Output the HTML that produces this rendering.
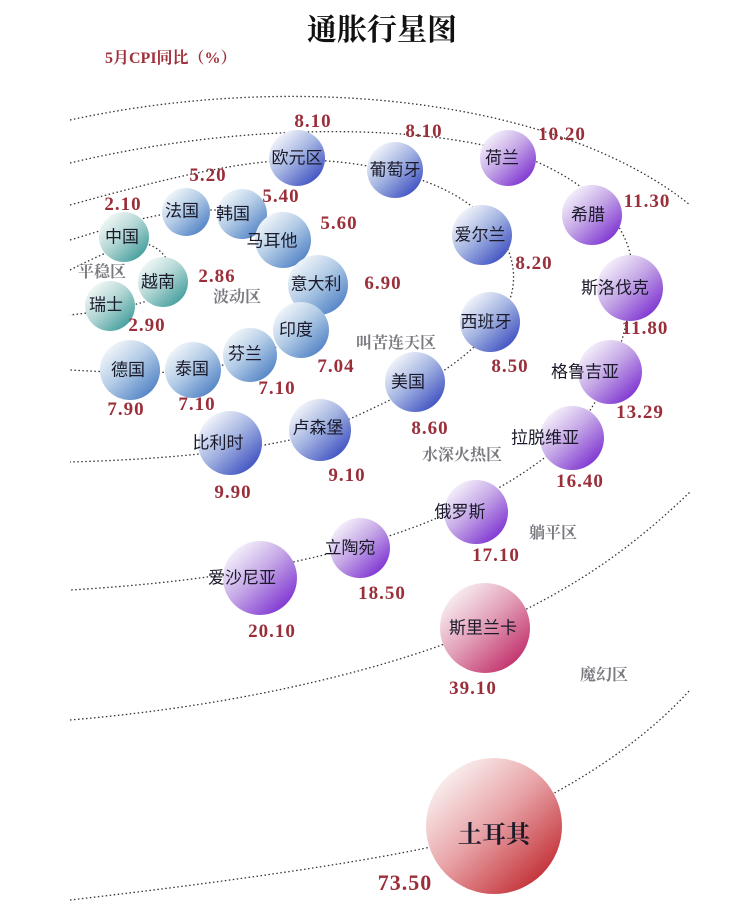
<!DOCTYPE html>
<html><head><meta charset="utf-8"><style>
body{margin:0;background:#fff}
svg{display:block}
.n{font-family:"Liberation Sans","Noto Sans CJK SC",sans-serif;font-size:17px;fill:#1a1a2a;text-anchor:middle;dominant-baseline:central}
.v{font-family:"Liberation Serif","Noto Serif CJK SC",serif;font-size:19px;font-weight:bold;fill:#9a2f3a;text-anchor:middle;letter-spacing:1px}
.z{font-family:"Noto Serif CJK SC",serif;font-size:16px;font-weight:bold;fill:#7a7a80;text-anchor:middle}
.o{fill:none;stroke:#333;stroke-width:1.3;stroke-dasharray:1.5 2.5}
</style></head><body>
<svg width="740" height="917" viewBox="0 0 740 917" xmlns="http://www.w3.org/2000/svg">
<defs>
<linearGradient id="b" x1="0.15" y1="0.1" x2="0.9" y2="0.9"><stop offset="0" stop-color="#f4f6fb"/><stop offset="0.45" stop-color="#a6b6e2"/><stop offset="1" stop-color="#3a4cc0"/></linearGradient>
<linearGradient id="lb" x1="0.15" y1="0.1" x2="0.9" y2="0.9"><stop offset="0" stop-color="#f2f6fa"/><stop offset="0.45" stop-color="#b2cbe6"/><stop offset="1" stop-color="#4d7fc4"/></linearGradient>
<linearGradient id="t" x1="0.15" y1="0.1" x2="0.9" y2="0.9"><stop offset="0" stop-color="#f2f8f6"/><stop offset="0.45" stop-color="#b2d6d4"/><stop offset="1" stop-color="#3d9b9a"/></linearGradient>
<linearGradient id="p" x1="0.15" y1="0.1" x2="0.9" y2="0.9"><stop offset="0" stop-color="#f6f2fb"/><stop offset="0.45" stop-color="#c4a6e6"/><stop offset="1" stop-color="#7a2ed0"/></linearGradient>
<linearGradient id="k" x1="0.15" y1="0.1" x2="0.9" y2="0.9"><stop offset="0" stop-color="#f8eef2"/><stop offset="0.45" stop-color="#e2a0b8"/><stop offset="1" stop-color="#c02a68"/></linearGradient>
<linearGradient id="r" x1="0.15" y1="0.1" x2="0.9" y2="0.9"><stop offset="0" stop-color="#faf0f0"/><stop offset="0.45" stop-color="#e8a4a8"/><stop offset="1" stop-color="#c02a30"/></linearGradient>
</defs>
<text x="382" y="40" font-family="Noto Serif CJK SC,serif" font-size="30" font-weight="bold" fill="#111" text-anchor="middle">通胀行星图</text>
<text x="105" y="63" font-family="Liberation Serif,Noto Serif CJK SC,serif" font-size="16" font-weight="bold" fill="#a0303a">5月CPI同比（%）</text>

<path class="o" d="M70,120 C300,70 560,100 690,205"/>
<path class="o" d="M70,163 C250,120 430,125 520,155 C600,185 640,235 632,290 C625,350 600,410 560,445 C520,480 470,505 420,525 C340,555 240,580 70,590"/>
<path class="o" d="M70,205 C160,180 240,160 300,160 C360,160 430,175 470,205 C520,240 525,290 495,325 C470,355 440,375 410,390 C370,410 330,430 290,440 C220,455 140,460 70,462"/>
<path class="o" d="M70,240 C120,225 160,210 210,210 C250,210 280,230 300,255 C320,275 320,305 300,330 C280,350 250,360 200,370 C150,375 110,372 70,370"/>
<path class="o" d="M70,270 C100,255 130,240 150,245 C175,255 180,290 150,300 C120,310 95,312 70,315"/>
<path class="o" d="M70,720 C250,705 400,665 485,628 C580,588 640,540 690,492"/>
<path class="o" d="M70,900 C200,885 350,865 440,845 C560,800 640,745 690,690"/>

<g>
<circle cx="297" cy="158" r="28" fill="url(#b)"/><text class="n" x="297" y="158">欧元区</text>
<circle cx="395" cy="170" r="28" fill="url(#b)"/><text class="n" x="395" y="170">葡萄牙</text>
<circle cx="508" cy="158" r="28" fill="url(#p)"/><text class="n" x="502" y="158">荷兰</text>
<circle cx="592" cy="215" r="30" fill="url(#p)"/><text class="n" x="588" y="215">希腊</text>
<circle cx="482" cy="235" r="30" fill="url(#b)"/><text class="n" x="480" y="235">爱尔兰</text>
<circle cx="630" cy="288" r="33" fill="url(#p)"/><text class="n" x="615" y="288">斯洛伐克</text>
<circle cx="490" cy="322" r="30" fill="url(#b)"/><text class="n" x="486" y="322">西班牙</text>
<circle cx="610" cy="372" r="32" fill="url(#p)"/><text class="n" x="585" y="372">格鲁吉亚</text>
<circle cx="415" cy="382" r="30" fill="url(#b)"/><text class="n" x="408" y="382">美国</text>
<circle cx="572" cy="438" r="32" fill="url(#p)"/><text class="n" x="545" y="438">拉脱维亚</text>
<circle cx="320" cy="430" r="31" fill="url(#b)"/><text class="n" x="318" y="428">卢森堡</text>
<circle cx="230" cy="443" r="32" fill="url(#b)"/><text class="n" x="218" y="443">比利时</text>
<circle cx="476" cy="512" r="32" fill="url(#p)"/><text class="n" x="460" y="512">俄罗斯</text>
<circle cx="360" cy="548" r="30" fill="url(#p)"/><text class="n" x="350" y="548">立陶宛</text>
<circle cx="260" cy="578" r="37" fill="url(#p)"/><text class="n" x="242" y="578">爱沙尼亚</text>
<circle cx="485" cy="628" r="45" fill="url(#k)"/><text class="n" x="483" y="628">斯里兰卡</text>
<circle cx="494" cy="826" r="68" fill="url(#r)"/><text class="n" x="494" y="832" style="font-size:24px;font-weight:bold;font-family:'Noto Serif CJK SC',serif">土耳其</text>
<circle cx="186" cy="212" r="24" fill="url(#lb)"/><text class="n" x="182" y="211">法国</text>
<circle cx="242" cy="214" r="25" fill="url(#lb)"/><text class="n" x="233" y="214">韩国</text>
<circle cx="283" cy="240" r="28" fill="url(#lb)"/><text class="n" x="272" y="241">马耳他</text>
<circle cx="318" cy="285" r="30" fill="url(#lb)"/><text class="n" x="316" y="284">意大利</text>
<circle cx="301" cy="330" r="28" fill="url(#lb)"/><text class="n" x="296" y="330">印度</text>
<circle cx="250" cy="355" r="27" fill="url(#lb)"/><text class="n" x="245" y="354">芬兰</text>
<circle cx="193" cy="370" r="28" fill="url(#lb)"/><text class="n" x="192" y="369">泰国</text>
<circle cx="130" cy="370" r="30" fill="url(#lb)"/><text class="n" x="128" y="370">德国</text>
<circle cx="124" cy="237" r="25" fill="url(#t)"/><text class="n" x="122" y="237">中国</text>
<circle cx="163" cy="282" r="25" fill="url(#t)"/><text class="n" x="158" y="282">越南</text>
<circle cx="110" cy="306" r="25" fill="url(#t)"/><text class="n" x="106" y="305">瑞士</text>
</g>

<g>
<text class="v" x="313" y="127">8.10</text>
<text class="v" x="424" y="137">8.10</text>
<text class="v" x="562" y="140">10.20</text>
<text class="v" x="647" y="207">11.30</text>
<text class="v" x="534" y="269">8.20</text>
<text class="v" x="645" y="334">11.80</text>
<text class="v" x="510" y="372">8.50</text>
<text class="v" x="640" y="418">13.29</text>
<text class="v" x="430" y="434">8.60</text>
<text class="v" x="580" y="487">16.40</text>
<text class="v" x="347" y="481">9.10</text>
<text class="v" x="233" y="498">9.90</text>
<text class="v" x="496" y="561">17.10</text>
<text class="v" x="382" y="599">18.50</text>
<text class="v" x="272" y="637">20.10</text>
<text class="v" x="473" y="694">39.10</text>
<text class="v" x="405" y="890" style="font-size:22px">73.50</text>
<text class="v" x="208" y="181">5.20</text>
<text class="v" x="281" y="202">5.40</text>
<text class="v" x="339" y="229">5.60</text>
<text class="v" x="383" y="289">6.90</text>
<text class="v" x="336" y="372">7.04</text>
<text class="v" x="277" y="394">7.10</text>
<text class="v" x="197" y="410">7.10</text>
<text class="v" x="126" y="415">7.90</text>
<text class="v" x="123" y="210">2.10</text>
<text class="v" x="217" y="282">2.86</text>
<text class="v" x="147" y="331">2.90</text>
</g>

<g>
<text class="z" x="102" y="277">平稳区</text>
<text class="z" x="237" y="302">波动区</text>
<text class="z" x="396" y="348">叫苦连天区</text>
<text class="z" x="462" y="460">水深火热区</text>
<text class="z" x="553" y="538">躺平区</text>
<text class="z" x="604" y="680">魔幻区</text>
</g>
</svg>
</body></html>
